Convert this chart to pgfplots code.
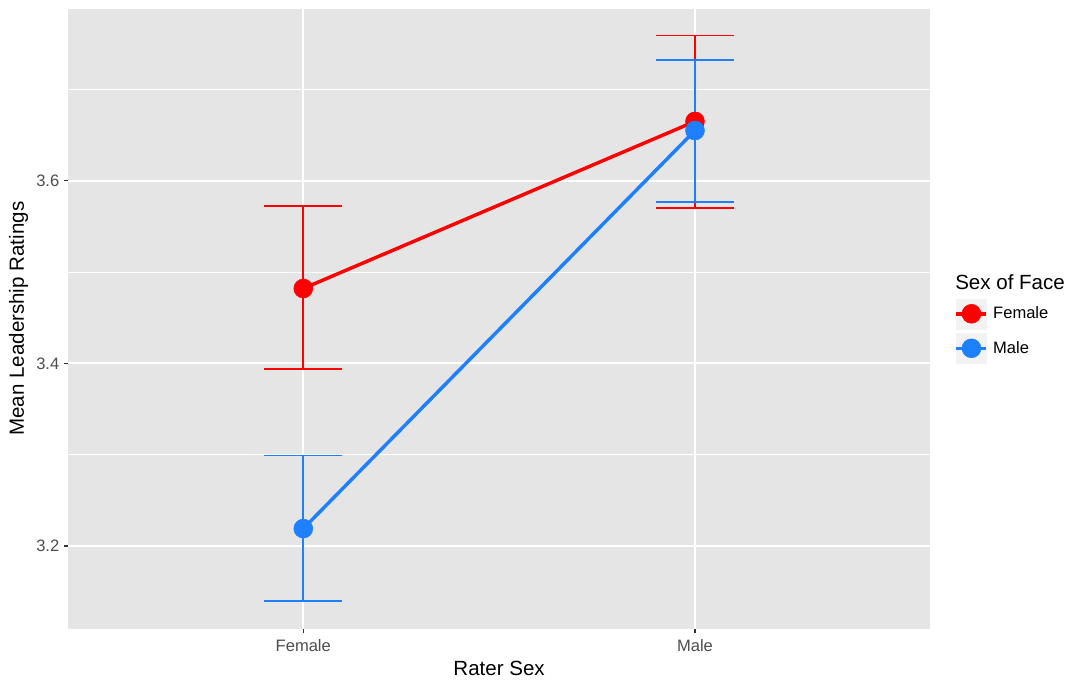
\documentclass[border=0pt]{standalone}
\usepackage{fontspec}
\setmainfont{Liberation Sans}
\usepackage{pgfplots}
\pgfplotsset{compat=1.18}

\definecolor{ggbg}{HTML}{E5E5E5}
\definecolor{ggkey}{HTML}{F2F2F2}
\definecolor{ggred}{HTML}{FF0000}
\definecolor{ggblue}{HTML}{1F80FF}
\definecolor{ggtext}{HTML}{4D4D4D}
\definecolor{ggtick}{HTML}{333333}

% means with upper/lower error, x: 1 = Female rater, 2 = Male rater
\pgfplotstableread{
x  y      ep     em
1  3.482  0.090  0.088
2  3.665  0.094  0.095
}\femaleface
\pgfplotstableread{
x  y      ep     em
1  3.219  0.080  0.079
2  3.655  0.077  0.078
}\maleface

\pgfplotsset{
  errbar/.style={forget plot, only marks, mark=none,
    error bars/.cd, y dir=both, y explicit,
    error bar style={color=#1, line width=1.3pt},
    error mark options={rotate=90, color=#1, line width=1.3pt, mark size=29.25pt}},
  keyimg/.style={legend image code/.code={
    \fill[ggkey] (0pt,-11.25pt) rectangle (22.5pt,11.25pt);
    \draw[#1, line width=2.6pt] (0pt,0pt) -- (22.5pt,0pt);
    \fill[#1] (11.25pt,0pt) circle (7.1pt);}},
}

\begin{document}
\begin{tikzpicture}
\begin{axis}[
    scale only axis,
    width=646.3pt, height=465pt,
    xmin=0.4, xmax=2.6,
    ymin=3.1094, ymax=3.7885,
    clip mode=individual,
    xtick={1,2}, xticklabels={Female,Male},
    ytick={3.2,3.4,3.6}, yticklabels={3.2,3.4,3.6},
    minor ytick={3.3,3.5,3.7},
    xmajorgrids, ymajorgrids, yminorgrids,
    major grid style={white, line width=1.4pt},
    minor grid style={white, line width=0.7pt},
    axis line style={draw=none},
    axis background/.style={fill=ggbg},
    tick align=outside, tick pos=left,
    major tick length=3.2pt, minor tick length=0pt,
    tick style={color=ggtick, line width=0.9pt},
    ticklabel style={font=\fontsize{12.4}{14}\selectfont, color=ggtext},
    label style={font=\fontsize{15.4}{18}\selectfont},
    xlabel={Rater Sex}, ylabel={Mean Leadership Ratings},
    xlabel style={at={(axis description cs:0.5,-0.0635)}, anchor=center},
    ylabel style={at={(axis description cs:-0.0578,0.5)}, anchor=center},
    xticklabel style={yshift=-1.2pt},
    legend style={at={(axis description cs:1.0287,0.5325)}, anchor=north west,
      draw=none, fill=none, inner sep=0pt, outer sep=0pt,
      row sep=3pt, column sep=3.75pt,
      font=\fontsize{12.4}{14}\selectfont, nodes={inner sep=0pt}},
    legend cell align=left,
]
\addplot[errbar=ggred] table[x=x, y=y, y error plus=ep, y error minus=em] {\femaleface};
\addplot[errbar=ggblue] table[x=x, y=y, y error plus=ep, y error minus=em] {\maleface};
\addplot[forget plot, ggred, line width=2.6pt, no marks] table[x=x, y=y] {\femaleface};
\addplot[forget plot, ggblue, line width=2.6pt, no marks] table[x=x, y=y] {\maleface};
\addplot[forget plot, only marks, mark=*, mark size=7.1pt, ggred, mark options={draw=none, fill=ggred}] table[x=x, y=y] {\femaleface};
\addplot[forget plot, only marks, mark=*, mark size=7.1pt, ggblue, mark options={draw=none, fill=ggblue}] table[x=x, y=y] {\maleface};

\addlegendimage{keyimg=ggred}
\addlegendentry{Female}
\addlegendimage{keyimg=ggblue}
\addlegendentry{Male}

\node[anchor=west, inner sep=0pt, font=\fontsize{15.4}{18}\selectfont] at (axis description cs:1.029,0.559) {Sex of Face};
\end{axis}
\path ([shift={(-51.2pt,-40pt)}]current axis.south west) rectangle ([shift={(107.25pt,6.5pt)}]current axis.north east);
\end{tikzpicture}
\end{document}
